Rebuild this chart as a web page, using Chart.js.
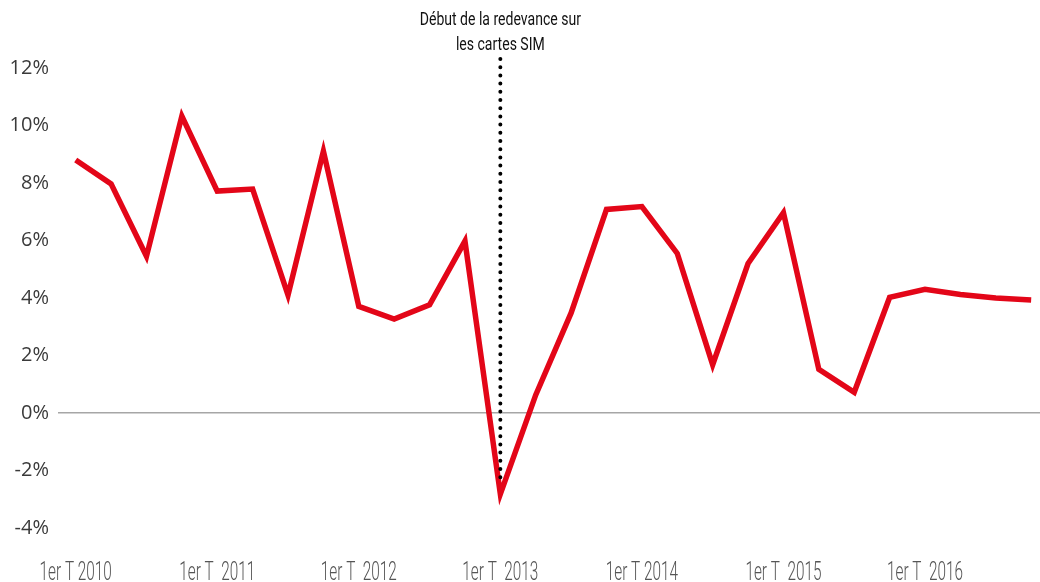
<!DOCTYPE html>
<html>
<head>
<meta charset="utf-8">
<script src="https://cdn.jsdelivr.net/npm/chart.js@4"></script>
<style>
  html, body { margin: 0; padding: 0; background: #fff; }
  #wrap { width: 1040px; height: 582px; }
</style>
</head>
<body>
<div id="wrap"><canvas id="chart"></canvas></div>
<script>
// quarters 1er T 2010 .. 4e T 2016
const quarters = [
    '1er T 2010', '2e T 2010', '3e T 2010', '4e T 2010',
    '1er T  2011', '2e T 2011', '3e T 2011', '4e T 2011',
    '1er T  2012', '2e T 2012', '3e T 2012', '4e T 2012',
    '1er T  2013', '2e T 2013', '3e T 2013', '4e T 2013',
    '1er T 2014', '2e T 2014', '3e T 2014', '4e T 2014',
    '1er T  2015', '2e T 2015', '3e T 2015', '4e T 2015',
    '1er T  2016', '2e T 2016', '3e T 2016', '4e T 2016'
];
const growth = [
    8.8, 7.97, 5.45, 10.33, 7.72, 7.79, 4.1, 9.11,
    3.71, 3.27, 3.76, 5.98, -2.82, 0.63, 3.48, 7.08,
    7.18, 5.55, 1.68, 5.2, 6.97, 1.52, 0.72, 4.02,
    4.3, 4.12, 4.0, 3.93
];
const yTicks = [-4, -2, 0, 2, 4, 6, 8, 10, 12];
const markerIndex = 12;
const markerText = ['Début de la redevance sur', 'les cartes SIM'];

// condensed text: draw with a horizontal squeeze
function drawNarrow(ctx, text, x, y, squeeze) {
    ctx.save();
    ctx.translate(x, y);
    ctx.scale(squeeze, 1);
    ctx.fillText(text, 0, 0);
    ctx.restore();
}

const markerPlugin = {
    id: 'marker',
    afterDatasetsDraw(chart) {
        const ctx = chart.ctx;
        const xs = chart.scales.x;
        const x = xs.getPixelForValue(markerIndex);
        const yBottom = chart.scales.y.getPixelForValue(growth[markerIndex]) - 10;
        ctx.save();
        ctx.strokeStyle = '#000';
        ctx.lineWidth = 4;
        ctx.lineCap = 'round';
        ctx.setLineDash([0, 8.2]);
        ctx.beginPath();
        ctx.moveTo(x, 59);
        ctx.lineTo(x, yBottom);
        ctx.stroke();
        ctx.setLineDash([]);

        // annotation
        ctx.fillStyle = '#111';
        ctx.font = '18px Roboto';
        ctx.textAlign = 'center';
        ctx.textBaseline = 'middle';
        drawNarrow(ctx, markerText[0], x, 20, 0.78);
        drawNarrow(ctx, markerText[1], x, 45, 0.78);

        // x tick labels
        ctx.fillStyle = '#555';
        ctx.font = '300 26px Roboto';
        ctx.textBaseline = 'alphabetic';
        xs.ticks.forEach((t, i) => {
            drawNarrow(ctx, quarters[t.value], xs.getPixelForTick(i), 580, 0.59);
        });
        ctx.restore();
    }
};

new Chart(document.getElementById('chart'), {
    type: 'line',
    data: {
        datasets: [{
            data: growth.map((v, i) => ({ x: i, y: v })),
            borderColor: '#e30618',
            borderWidth: 5.5,
            pointRadius: 0,
            tension: 0,
            fill: false
        }]
    },
    options: {
        responsive: true,
        maintainAspectRatio: false,
        animation: false,
        layout: { padding: { top: 68, right: 0, bottom: 0, left: 0 } },
        plugins: {
            legend: { display: false },
            tooltip: { enabled: false }
        },
        scales: {
            x: {
                type: 'linear',
                min: -0.5,
                max: 27.25,
                grid: { display: false, drawTicks: false },
                border: { display: false },
                afterBuildTicks(axis) {
                    axis.ticks = quarters.map((q, i) => ({ value: i })).filter(t => t.value % 4 === 0);
                },
                afterFit(axis) {
                    axis.height = 54;
                    axis.paddingLeft = 0;
                    axis.paddingRight = 0;
                },
                ticks: {
                    display: false,
                    autoSkip: false
                }
            },
            y: {
                min: -4,
                max: 12,
                afterBuildTicks(axis) {
                    axis.ticks = yTicks.map(v => ({ value: v }));
                },
                afterFit(axis) { axis.width = 58; },
                border: { display: false },
                grid: {
                    drawTicks: false,
                    color: (c) => c.tick && c.tick.value === 0 ? '#a6a6a6' : 'rgba(0,0,0,0)',
                    lineWidth: 1.5
                },
                ticks: {
                    padding: 9,
                    color: '#3a3a3a',
                    font: { family: "'Open Sans', sans-serif", size: 20 },
                    callback: (v) => v + '%'
                }
            }
        }
    },
    plugins: [markerPlugin]
});
</script>
</body>
</html>
